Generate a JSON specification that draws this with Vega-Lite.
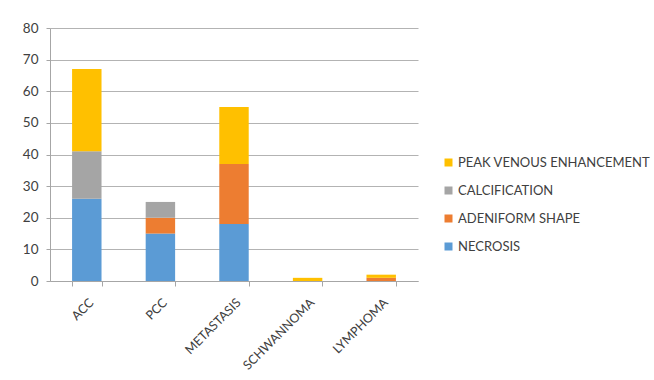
{
  "$schema": "https://vega.github.io/schema/vega-lite/v6.json",
  "width": 368,
  "height": 253,
  "autosize": "none",
  "padding": {"left": 50, "top": 28, "right": 236, "bottom": 99},
  "background": "white",
  "data": {
    "values": [
      {"type": "ACC", "feature": "NECROSIS", "o": 1, "count": 26},
      {"type": "ACC", "feature": "ADENIFORM SHAPE", "o": 2, "count": 0},
      {"type": "ACC", "feature": "CALCIFICATION", "o": 3, "count": 15},
      {"type": "ACC", "feature": "PEAK VENOUS ENHANCEMENT", "o": 4, "count": 26},
      {"type": "PCC", "feature": "NECROSIS", "o": 1, "count": 15},
      {"type": "PCC", "feature": "ADENIFORM SHAPE", "o": 2, "count": 5},
      {"type": "PCC", "feature": "CALCIFICATION", "o": 3, "count": 5},
      {"type": "PCC", "feature": "PEAK VENOUS ENHANCEMENT", "o": 4, "count": 0},
      {"type": "METASTASIS", "feature": "NECROSIS", "o": 1, "count": 18},
      {"type": "METASTASIS", "feature": "ADENIFORM SHAPE", "o": 2, "count": 19},
      {"type": "METASTASIS", "feature": "CALCIFICATION", "o": 3, "count": 0},
      {"type": "METASTASIS", "feature": "PEAK VENOUS ENHANCEMENT", "o": 4, "count": 18},
      {"type": "SCHWANNOMA", "feature": "NECROSIS", "o": 1, "count": 0},
      {"type": "SCHWANNOMA", "feature": "ADENIFORM SHAPE", "o": 2, "count": 0},
      {"type": "SCHWANNOMA", "feature": "CALCIFICATION", "o": 3, "count": 0},
      {"type": "SCHWANNOMA", "feature": "PEAK VENOUS ENHANCEMENT", "o": 4, "count": 1},
      {"type": "LYMPHOMA", "feature": "NECROSIS", "o": 1, "count": 0},
      {"type": "LYMPHOMA", "feature": "ADENIFORM SHAPE", "o": 2, "count": 1},
      {"type": "LYMPHOMA", "feature": "CALCIFICATION", "o": 3, "count": 0},
      {"type": "LYMPHOMA", "feature": "PEAK VENOUS ENHANCEMENT", "o": 4, "count": 1}
    ]
  },
  "mark": {"type": "bar"},
  "encoding": {
    "x": {
      "field": "type",
      "type": "nominal",
      "sort": null,
      "scale": {"paddingInner": 0.6, "paddingOuter": 0.3},
      "axis": {
        "title": null,
        "labelAngle": -45,
        "labelAlign": "right",
        "labelBaseline": "top",
        "labelPadding": 10,
        "labelFont": "Lato",
        "labelFontSize": 12.5,
        "labelColor": "#404040",
        "tickBand": "extent",
        "tickSize": 5,
        "tickColor": "#a6a6a6",
        "domainColor": "#a6a6a6",
        "grid": false
      }
    },
    "y": {
      "field": "count",
      "type": "quantitative",
      "stack": "zero",
      "scale": {"domain": [0, 80], "nice": false},
      "axis": {
        "title": null,
        "values": [0, 10, 20, 30, 40, 50, 60, 70, 80],
        "labelFont": "Lato",
        "labelFontSize": 13.5,
        "labelColor": "#404040",
        "labelPadding": 8,
        "tickSize": 4,
        "tickColor": "#a6a6a6",
        "domain": true,
        "domainColor": "#a6a6a6",
        "gridColor": "#b3b3b3",
        "gridWidth": 1
      }
    },
    "color": {
      "field": "feature",
      "type": "nominal",
      "scale": {
        "domain": ["PEAK VENOUS ENHANCEMENT", "CALCIFICATION", "ADENIFORM SHAPE", "NECROSIS"],
        "range": ["#FFC000", "#A5A5A5", "#ED7D31", "#5B9BD5"]
      },
      "legend": {
        "title": null,
        "orient": "none",
        "legendX": 392,
        "legendY": 128,
        "symbolType": "square",
        "symbolSize": 64,
        "symbolStrokeWidth": 0,
        "labelFont": "Lato",
        "labelFontSize": 13,
        "labelColor": "#404040",
        "labelLimit": 0,
        "rowPadding": 14,
        "labelOffset": 3
      }
    },
    "order": {"field": "o", "type": "quantitative"}
  },
  "config": {
    "view": {"stroke": null}
  }
}
